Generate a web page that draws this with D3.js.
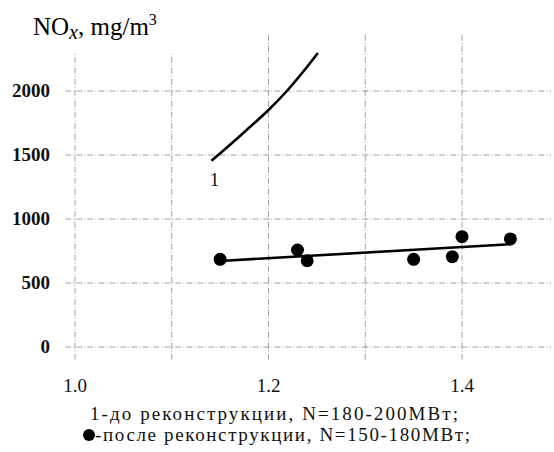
<!DOCTYPE html>
<html><head><meta charset="utf-8">
<script src="https://cdn.jsdelivr.net/npm/d3@7"></script>
<style>
html,body{margin:0;padding:0;background:#fff;}
svg{display:block;}
svg text{font-family:'Liberation Serif','Times New Roman',Times,'DejaVu Serif',serif;}
</style></head>
<body>
<svg id="chart" width="554" height="452"></svg>
<script>
// ---- data ----
const xTickValues = [1.0, 1.2, 1.4];
const xTickLabels = ["1.0", "1.2", "1.4"];
const yTickValues = [0, 500, 1000, 1500, 2000];
const yTickLabels = ["0", "500", "1000", "1500", "2000"];
const xGrid = [1.0, 1.1, 1.2, 1.3, 1.4];
const curve1X = [1.141, 1.17, 1.2, 1.219, 1.236, 1.251];
const curve1Y = [1455, 1645, 1852, 2000, 2152, 2297];
const afterX = [1.15, 1.23, 1.24, 1.35, 1.39, 1.40, 1.45];
const afterY = [685, 758, 674, 685, 705, 862, 844];
const trendX = [1.15, 1.45];
const trendY = [672, 803];
const titleParts = ["NO", "x", ", mg/m", "3"];
const curveLabel = "1";
const legendLines = ["1-до реконструкции, N=180-200МВт;", "-после реконструкции, N=150-180МВт;"];

// ---- drawing ----
const svg = d3.select("#chart");
const x = d3.scaleLinear().domain([1.0, 1.4]).range([75, 462]);
const y = d3.scaleLinear().domain([0, 2000]).range([347, 91]);

const grid = svg.append("g").attr("stroke", "#8a8a8a").attr("stroke-width", 0.8)
  .attr("stroke-dasharray", "6,2,1,2").attr("fill", "none");
grid.selectAll("line.h").data(yTickValues).join("line")
  .attr("x1", x(0.99)).attr("x2", x(1.492))
  .attr("y1", d => y(d)).attr("y2", d => y(d));
grid.selectAll("line.v").data(xGrid).join("line")
  .attr("x1", d => x(d)).attr("x2", d => x(d))
  .attr("y1", y(-100)).attr("y2", d => d < 1.15 ? y(2300) : y(2445));

// y tick labels
svg.append("g").selectAll("text").data(yTickValues).join("text")
  .attr("x", 50).attr("y", d => y(d) + 6)
  .attr("text-anchor", "end").attr("font-size", 19).attr("font-weight", "bold").attr("fill", "#111")
  .text((d, i) => yTickLabels[i]);
// x tick labels
svg.append("g").selectAll("text").data(xTickValues).join("text")
  .attr("x", d => x(d)).attr("y", 392)
  .attr("text-anchor", "middle").attr("font-size", 19).attr("fill", "#111")
  .text((d, i) => xTickLabels[i]);

// title
const t = svg.append("text").attr("x", 33).attr("y", 35).attr("font-size", 25).attr("fill", "#000");
t.append("tspan").text(titleParts[0]);
t.append("tspan").attr("font-style", "italic").attr("dy", 4).attr("font-size", 20).text(titleParts[1]);
t.append("tspan").attr("dy", -4).text(titleParts[2]);
t.append("tspan").attr("dy", -10).attr("font-size", 16).text(titleParts[3]);

// curve 1
const line = d3.line().x(d => x(d[0])).y(d => y(d[1])).curve(d3.curveCatmullRom);
svg.append("path").datum(curve1X.map((v, i) => [v, curve1Y[i]]))
  .attr("d", line).attr("fill", "none").attr("stroke", "#000").attr("stroke-width", 2.6);
svg.append("text").attr("x", x(curve1X[0]) + 3).attr("y", y(curve1Y[0]) + 25)
  .attr("text-anchor", "middle").attr("font-size", 19).attr("fill", "#111").text(curveLabel);

// trend line
svg.append("path").datum(trendX.map((v, i) => [v, trendY[i]]))
  .attr("d", d3.line().x(d => x(d[0])).y(d => y(d[1])))
  .attr("fill", "none").attr("stroke", "#000").attr("stroke-width", 2.6);

// points
svg.append("g").selectAll("circle").data(afterX.map((v, i) => [v, afterY[i]])).join("circle")
  .attr("cx", d => x(d[0])).attr("cy", d => y(d[1])).attr("r", 6.5).attr("fill", "#000");

// legend
svg.append("text").attr("x", 90).attr("y", 420).attr("font-size", 19).attr("fill", "#111")
  .attr("textLength", 368).attr("lengthAdjust", "spacing").text(legendLines[0]);
svg.append("circle").attr("cx", 89).attr("cy", 435).attr("r", 6).attr("fill", "#000");
svg.append("text").attr("x", 95).attr("y", 441).attr("font-size", 19).attr("fill", "#111")
  .attr("textLength", 375).attr("lengthAdjust", "spacing").text(legendLines[1]);
</script>
</body></html>
